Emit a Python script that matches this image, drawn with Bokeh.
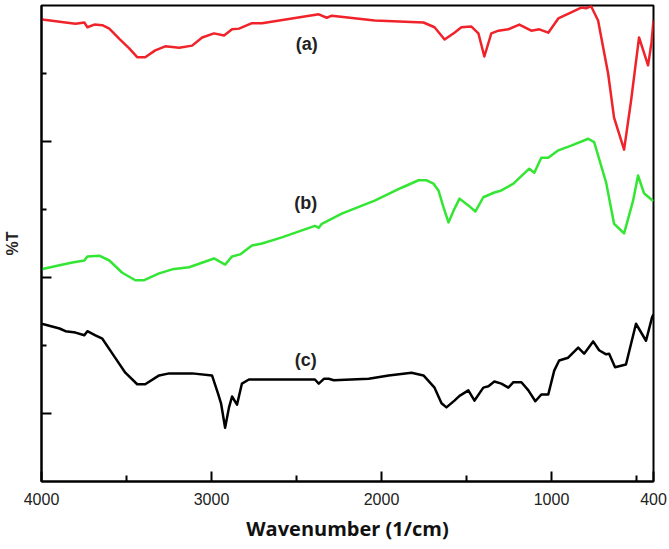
from bokeh.plotting import figure
from bokeh.models import Range1d, FixedTicker
from bokeh.embed import file_html
from bokeh.resources import INLINE
from bokeh.core.properties import value

# (a) red spectrum
wn_a = [4000, 3984, 3859, 3800, 3748, 3730, 3689, 3642, 3601, 3542, 3484, 3437, 3390, 3331, 3272,
        3190, 3114, 3055, 2985, 2926, 2879, 2838, 2762, 2703, 2527, 2369, 2322, 2292, 2040, 1753,
        1688, 1629, 1571, 1530, 1471, 1430, 1395, 1354, 1312, 1254, 1189, 1119, 1072, 1019, 960,
        884, 825, 796, 767, 726, 667, 632, 573, 532, 485, 432, 412, 400]
t_a = [68.0, 67.9, 67.5, 67.3, 67.5, 66.8, 67.2, 67.1, 66.6, 65.1, 63.7, 62.4, 62.4, 63.4, 64.0,
       63.8, 64.1, 65.3, 65.9, 65.6, 66.5, 66.6, 67.4, 67.4, 68.1, 68.7, 68.2, 68.5, 67.8, 67.5,
       66.8, 65.0, 66.0, 66.8, 66.9, 65.9, 62.5, 65.9, 66.3, 66.5, 67.2, 66.3, 66.5, 66.0, 68.1,
       69.0, 69.7, 69.6, 69.9, 67.8, 60.0, 53.5, 48.8, 56.0, 65.3, 61.2, 64.5, 67.8]

# (b) green spectrum
wn_b = [4000, 3894, 3818, 3748, 3730, 3660, 3601, 3525, 3448, 3396, 3308, 3231, 3132, 2985, 2920,
        2879, 2832, 2762, 2703, 2586, 2392, 2369, 2351, 2234, 2040, 1882, 1782, 1735, 1694, 1665,
        1635, 1606, 1571, 1541, 1489, 1448, 1401, 1336, 1295, 1224, 1131, 1101, 1060, 1019, 960,
        884, 784, 749, 679, 632, 573, 520, 491, 456, 400]
t_b = [31.2, 31.8, 32.2, 32.5, 33.1, 33.2, 32.5, 30.7, 29.6, 29.6, 30.6, 31.2, 31.5, 32.8, 31.9,
       33.1, 33.4, 34.7, 35.0, 35.9, 37.6, 37.3, 37.9, 39.4, 41.3, 43.2, 44.3, 44.3, 43.8, 42.8,
       40.3, 38.1, 40.1, 41.6, 40.6, 39.7, 41.8, 42.5, 42.8, 43.8, 46.0, 45.4, 47.6, 47.6, 48.7,
       49.4, 50.4, 49.9, 44.0, 37.9, 36.5, 41.3, 45.0, 42.4, 41.2]

# (c) black spectrum
wn_c = [4000, 3982, 3894, 3859, 3800, 3748, 3730, 3683, 3642, 3583, 3507, 3437, 3390, 3308, 3249,
        3114, 2997, 2961, 2944, 2920, 2897, 2879, 2850, 2821, 2780, 2627, 2392, 2369, 2339, 2310,
        2281, 2075, 1958, 1823, 1753, 1688, 1647, 1618, 1571, 1541, 1489, 1453, 1401, 1371, 1336,
        1295, 1254, 1224, 1177, 1136, 1095, 1060, 1019, 984, 955, 902, 843, 808, 755, 720,
        679, 661, 626, 562, 503, 444, 409, 400]
t_c = [23.2, 23.1, 22.5, 22.1, 21.9, 21.5, 22.1, 21.5, 21.0, 18.8, 16.0, 14.3, 14.3, 15.6, 15.9,
       15.9, 15.6, 12.9, 11.5, 7.9, 10.9, 12.5, 11.3, 14.4, 15.0, 15.0, 15.0, 14.4, 15.1, 15.1,
       14.9, 15.1, 15.6, 16.0, 15.6, 13.8, 11.5, 10.9, 11.9, 12.6, 13.4, 11.9, 13.8, 14.0, 14.7,
       14.4, 13.8, 14.6, 14.6, 13.4, 11.8, 12.8, 12.8, 16.3, 17.8, 18.2, 19.7, 18.8, 20.6, 19.3,
       18.7, 18.8, 16.8, 17.2, 23.2, 20.7, 24.1, 24.6]

labels = ["(a)", "(b)", "(c)"]
label_wn = [2440, 2445, 2445]
label_t = [64.4, 41.0, 17.9]

x_ticks = [4000, 3000, 2000, 1000, 400]
x_minor = [3500, 2500, 1500, 500]
y_ticks = [10, 30, 50]
y_minor = [20, 40, 60]

p = figure(width=669, height=549, output_backend="svg", toolbar_location=None,
           x_range=Range1d(4000, 400), y_range=Range1d(0, 70),
           min_border_left=39, min_border_right=16, min_border_top=5, min_border_bottom=68)
p.xgrid.visible = False
p.ygrid.visible = False
p.outline_line_color = "black"
p.outline_line_width = 2
p.background_fill_color = "white"
p.border_fill_color = "white"

p.line(wn_a, t_a, line_color="#f0222a", line_width=2.5, line_join="round")
p.line(wn_b, t_b, line_color="#33e633", line_width=2.5, line_join="round")
p.line(wn_c, t_c, line_color="black", line_width=2.5, line_join="round")

p.text(x=label_wn, y=label_t, text=labels, text_align="center", text_baseline="middle",
       text_font=value("Liberation Sans"), text_font_style="bold", text_font_size="18px",
       text_color="#222222")

xa = p.xaxis[0]
xa.ticker = FixedTicker(ticks=x_ticks, minor_ticks=x_minor)
xa.axis_line_width = 2
xa.major_tick_in = 10
xa.major_tick_out = 0
xa.minor_tick_in = 6
xa.minor_tick_out = 0
xa.major_tick_line_width = 2
xa.minor_tick_line_width = 2
xa.major_label_text_font = "Liberation Sans"
xa.major_label_text_font_size = "16px"
xa.major_label_text_color = "#222222"
xa.major_label_standoff = 11
xa.axis_label = "Wavenumber (1/cm)"
xa.axis_label_text_font = "Open Sans"
xa.axis_label_text_font_style = "bold"
xa.axis_label_text_font_size = "20px"
xa.axis_label_text_color = "#111111"
xa.axis_label_standoff = 7

ya = p.yaxis[0]
ya.ticker = FixedTicker(ticks=y_ticks, minor_ticks=y_minor)
ya.axis_line_width = 2
ya.major_tick_in = 10
ya.major_tick_out = 0
ya.minor_tick_in = 5
ya.minor_tick_out = 0
ya.major_tick_line_width = 2
ya.minor_tick_line_width = 2
ya.major_label_overrides = {10: "", 30: "", 50: ""}
ya.major_label_standoff = 0
ya.axis_label = "%T"
ya.axis_label_text_font = "Liberation Sans"
ya.axis_label_text_font_style = "bold"
ya.axis_label_text_font_size = "16px"
ya.axis_label_text_color = "#222222"
ya.axis_label_standoff = 21

open("out.html", "w").write(file_html(p, INLINE))
